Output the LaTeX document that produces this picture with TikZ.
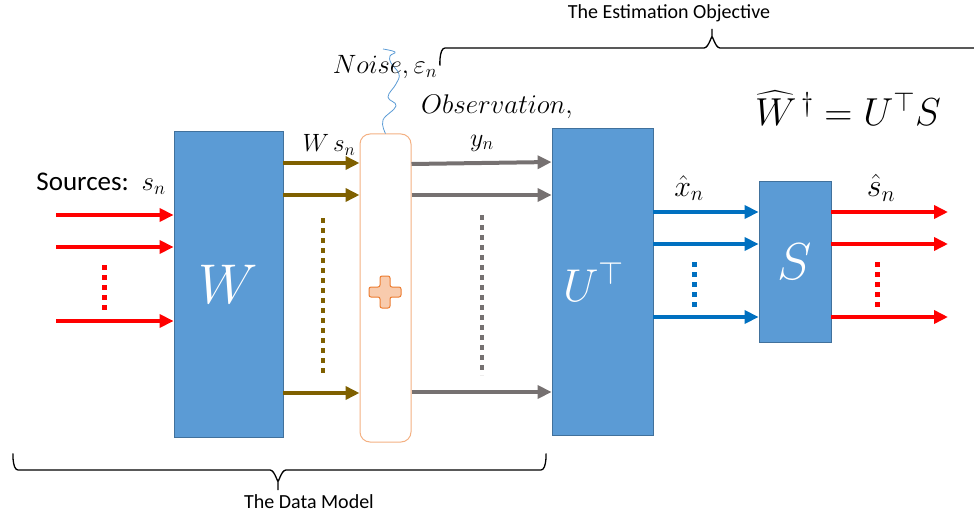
\documentclass[tikz,border=0pt]{standalone}
\usepackage{fix-cm}
\usepackage{amsmath}
\usepackage{fontspec}
\setmainfont{Carlito}
\usetikzlibrary{arrows.meta}
\definecolor{boxblue}{HTML}{5B9BD5}
\definecolor{boxedge}{HTML}{41719C}
\definecolor{brownarr}{HTML}{7F6000}
\definecolor{grayarr}{HTML}{767171}
\definecolor{bluearr}{HTML}{0070C0}
\definecolor{orangeedge}{HTML}{F4B183}
\definecolor{plusfill}{HTML}{F8CBAD}
\definecolor{plusedge}{HTML}{ED7D31}
\definecolor{redarr}{HTML}{FF0000}
\tikzset{
  blk/.style={draw=boxedge, fill=boxblue, line width=0.8pt, inner sep=0pt, text=white},
  arr/.style={line width=4pt, -{Triangle[length=14pt,width=13pt]}},
  dotv/.style={line width=5pt, dash pattern=on 5pt off 5pt},
  lbl/.style={inner sep=0pt},
  brcline/.style={line width=1.3pt, line join=round},
}
\newcommand{\fsz}[1]{\fontsize{#1}{#1}\selectfont}
\begin{document}
\begin{tikzpicture}[x=1pt,y=-1pt]
\useasboundingbox (0,0) rectangle (974,516);

% blocks
\node[blk, minimum width=109pt, minimum height=306pt] (W) at (228.5,284) {\fsz{56}$W$};
\node[draw=orangeedge, fill=white, rounded corners=10pt, line width=1pt, minimum width=51pt, minimum height=308pt, inner sep=0pt] (nz) at (385.5,288) {};
\node[blk, minimum width=101pt, minimum height=307pt] (U) at (602.5,281.5) {\fsz{46}$U^{\top}$\hspace*{18pt}};
\node[blk, minimum width=72pt, minimum height=161pt] (S) at (795,261.5) {\fsz{52}\raisebox{-8pt}{$S$}};

% plus sign
\draw[draw=plusedge, fill=plusfill, line width=1pt, rounded corners=2pt, shift={(385,292)}]
  (-5,-16) -- (5,-16) -- (5,-5) -- (16,-5) -- (16,5) -- (5,5) -- (5,16) -- (-5,16) -- (-5,5) -- (-16,5) -- (-16,-5) -- (-5,-5) -- cycle;

% noise wave
\draw[boxblue, line width=0.8pt] plot[smooth, tension=0.7] coordinates {(nz.north) (383,120) (396,106) (388,97) (396,84) (399,74) (391,63) (390,56) (395,52) (383,49)};

% labels
\node[lbl] (src) at (101,184) {\fsz{27}Sources:\, $s_n$};
\node[lbl] (wsn) at (329,145) {\fsz{25}$W\,s_n$};
\node[lbl] (noise) at (385,67) {\fsz{26.5}$Noise,\varepsilon_n$};
\node[lbl] (obs) at (497,107) {\fsz{27}$Observation,$};
\node[lbl] (yn) at (482,143) {\fsz{26}$y_n$};
\node[lbl] (xh) at (689,188) {\fsz{30}$\hat{x}_n$};
\node[lbl] (sh) at (881,188) {\fsz{32}$\hat{s}_n$};
\node[lbl] (form) at (848,108) {\fsz{39}$\widehat{W}^{\,\dagger} = U^{\top} S$};
\node[lbl] (est) at (669,13) {\fsz{20}The Estimation Objective};
\node[lbl] (dm) at (309,502) {\fsz{20}The Data Model};

% sources
\coordinate (s1) at (56,215);
\coordinate (s2) at (56,247);
\coordinate (s3) at (56,321);
\draw[arr, redarr] (s1) -- (W.west |- s1);
\draw[arr, redarr] (s2) -- (W.west |- s2);
\draw[arr, redarr] (s3) -- (W.west |- s3);
\draw[dotv, redarr] (104,265) -- (104,310);

% W -> noise
\draw[arr, brownarr] (W.east |- 0,163) -- (nz.west |- 0,163);
\draw[arr, brownarr] (W.east |- 0,195) -- (nz.west |- 0,195);
\draw[arr, brownarr] (W.east |- 0,393) -- (nz.west |- 0,393);
\draw[dotv, brownarr, line width=4.5pt] (323,218) -- (323,377);

% noise -> U
\draw[arr, grayarr] (nz.east |- 0,164) -- (U.west |- 0,162);
\draw[arr, grayarr] (nz.east |- 0,195) -- (U.west |- 0,195);
\draw[arr, grayarr] (nz.east |- 0,392) -- (U.west |- 0,392);
\draw[dotv, grayarr, line width=4.5pt] (482,215) -- (482,375);

% U -> S
\draw[arr, bluearr] (U.east |- 0,212) -- (S.west |- 0,212);
\draw[arr, bluearr] (U.east |- 0,244) -- (S.west |- 0,244);
\draw[arr, bluearr] (U.east |- 0,317) -- (S.west |- 0,317);
\draw[dotv, bluearr] (694,262) -- (694,307);

% outputs
\coordinate (o1) at (948,212);
\coordinate (o2) at (948,244);
\coordinate (o3) at (948,317);
\draw[arr, redarr] (S.east |- o1) -- (o1);
\draw[arr, redarr] (S.east |- o2) -- (o2);
\draw[arr, redarr] (S.east |- o3) -- (o3);
\draw[dotv, redarr] (877,262) -- (877,307);

% braces
\draw[brcline] (440,64) to[out=-90,in=180] (445,48) -- (704,48) to[out=0,in=90] (712,38) -- (712,29);
\draw[brcline] (712,38) to[out=90,in=180] (720,48) -- (979,48) to[out=0,in=-90] (984,64);
\draw[brcline] (13,455) to[out=90,in=180] (18,470) -- (270,470) to[out=0,in=-90] (278,480) -- (278,490);
\draw[brcline] (278,480) to[out=-90,in=180] (286,470) -- (541,470) to[out=0,in=90] (546,455);
\end{tikzpicture}
\end{document}
